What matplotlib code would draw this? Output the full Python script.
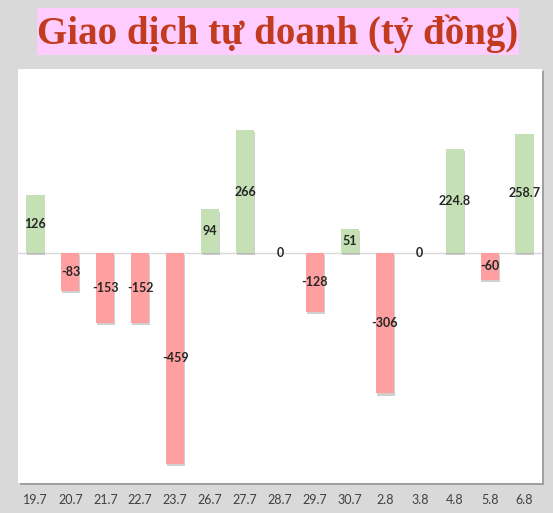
import matplotlib
matplotlib.use("Agg")
import matplotlib.pyplot as plt
import matplotlib.patheffects as pe
from matplotlib.patches import Rectangle

dates = ["19.7", "20.7", "21.7", "22.7", "23.7", "26.7", "27.7", "28.7",
         "29.7", "30.7", "2.8", "3.8", "4.8", "5.8", "6.8"]
values = [126, -83, -153, -152, -459, 94, 266, 0, -128, 51, -306, 0, 224.8, -60, 258.7]
labels = ["126", "-83", "-153", "-152", "-459", "94", "266", "0", "-128", "51",
          "-306", "0", "224.8", "-60", "258.7"]

W, H = 553, 513
fig = plt.figure(figsize=(W / 100, H / 100), dpi=100)
fig.patch.set_facecolor("#d9d9d9")

# plot area in pixel coords
x0, x1 = 18, 542
y_top, y_bot = 68.7, 482.7
ax = fig.add_axes([x0 / W, 1 - y_bot / H, (x1 - x0) / W, (y_bot - y_top) / H])

# shadow of the plot area
fig.patches.append(Rectangle((x0 / W + 2 / W, 1 - y_bot / H - 2 / H), (x1 - x0) / W, (y_bot - y_top) / H,
                             transform=fig.transFigure, facecolor="#a0a0a0", edgecolor="none",
                             zorder=0))
ax.set_facecolor("white")
ax.set_zorder(1)

green = "#c5e0b4"
red = "#ff9f9f"
colors = [green if v >= 0 else red for v in values]
xs = range(len(values))
shadow = [pe.SimplePatchShadow(offset=(0.6, -1.5), shadow_rgbFace="#8a8a8a", alpha=0.4), pe.Normal()]
bars = ax.bar(xs, values, width=0.52, color=colors, zorder=3)
for b in bars:
    if b.get_height() != 0:
        b.set_path_effects(shadow)

ax.axhline(0, color="#d9d9d9", lw=1, zorder=2)

for x, v, t in zip(xs, values, labels):
    ax.text(x, v / 2, t, ha="center", va="center", fontsize=9, fontweight="bold",
            family="Lato", color="#262626", zorder=4)

ax.set_xlim(-0.5, len(values) - 0.5)
ax.set_ylim(-500, 400)
ax.set_yticks([])
ax.set_xticks(list(xs))
ax.set_xticklabels(dates, family="Lato", fontsize=9, color="#404040")
ax.tick_params(axis="x", length=0, pad=8)
for s in ax.spines.values():
    s.set_visible(False)

# title box
fig.patches.append(Rectangle((36.5 / W, 1 - 55 / H), (519 - 36.5) / W, (55 - 8) / H,
                             transform=fig.transFigure, facecolor="#ffccff", edgecolor="none"))
fig.text(277.5 / W, 1 - 34 / H, "Giao dịch tự doanh (tỷ đồng)", ha="center", va="center",
         family="Liberation Serif", fontweight="bold", fontsize=28, color="#c23b1e")

fig.savefig("out.png", dpi=100, facecolor=fig.get_facecolor())
